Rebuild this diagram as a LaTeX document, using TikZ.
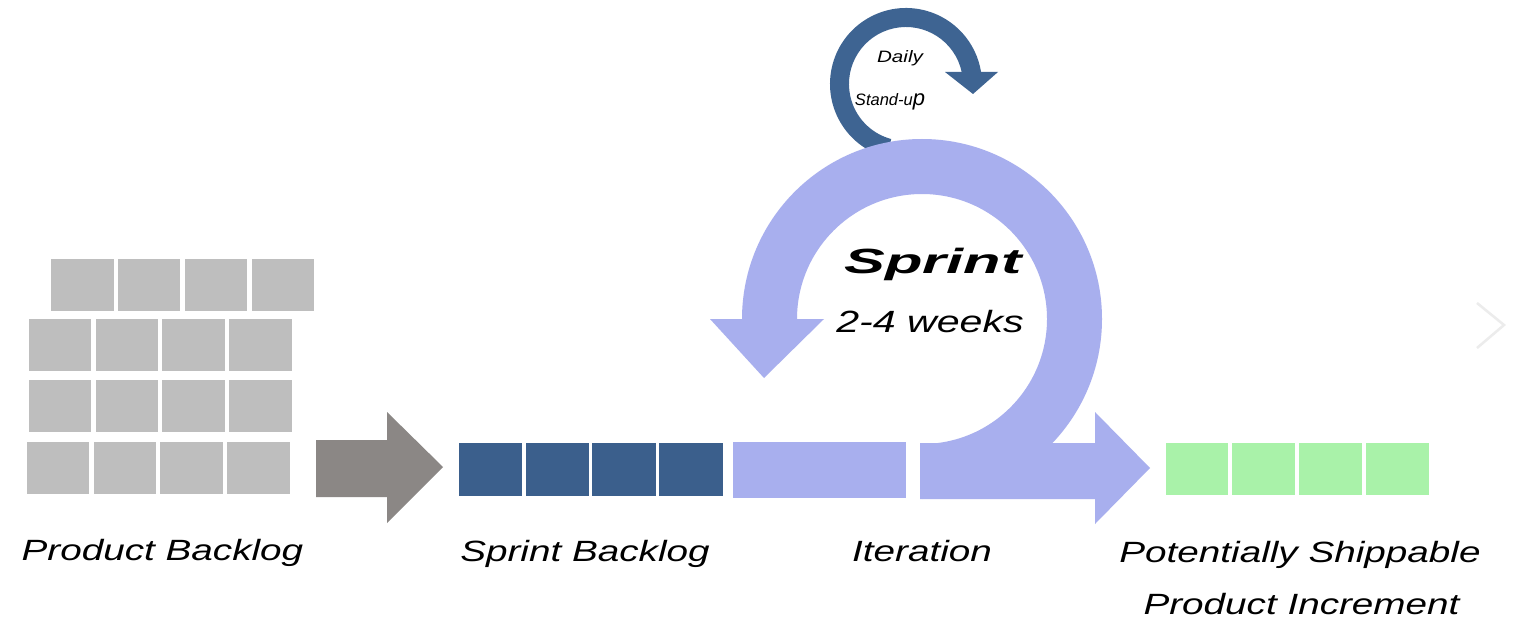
\documentclass[tikz,border=0pt]{standalone}
\usepackage{fontspec}
\setmainfont{Liberation Sans}
\usepackage{graphicx}
\definecolor{boxgray}{HTML}{BEBEBE}
\definecolor{arrowgray}{HTML}{8B8785}
\definecolor{darkblue}{HTML}{3B5F8C}
\definecolor{loopblue}{HTML}{3E6492}
\definecolor{periw}{HTML}{A8AFEE}
\definecolor{lgreen}{HTML}{A9F2A9}
\definecolor{chev}{HTML}{ECECEC}
\begin{document}
\begin{tikzpicture}[x=1pt,y=1pt,
  cell/.style={inner sep=0pt, outer sep=0pt, draw=none, minimum width=62.5pt, minimum height=52pt},
  gbox/.style={cell, fill=boxgray},
  dbox/.style={cell, fill=darkblue, minimum width=63.5pt, minimum height=53pt},
  kbox/.style={cell, fill=lgreen},
  lbl/.style={anchor=base, inner sep=0pt, font=\fontsize{29.3}{35}\selectfont\itshape},
  small/.style={anchor=base, inner sep=0pt, font=\fontsize{16.5}{20}\selectfont\itshape},
]
\useasboundingbox[fill=white] (0,0) rectangle (1515,-620);

% Product backlog
\foreach \x [count=\i] in {82.5,149,216,283} \node[gbox] (pa\i) at (\x,-285) {};
\foreach \x [count=\i] in {60,127,193.5,260.5} \node[gbox] (pb\i) at (\x,-345) {};
\foreach \x [count=\i] in {60,127,193.5,260.5} \node[gbox] (pc\i) at (\x,-406) {};
\foreach \x [count=\i] in {58,125,191.5,258.5} \node[gbox] (pd\i) at (\x,-468) {};

% gray arrow
\fill[arrowgray] (316,-440) -- (387,-440) -- (387,-412) -- (443,-467) -- (387,-523) -- (387,-497) -- (316,-497) -- cycle;

% Sprint backlog
\foreach \x [count=\i] in {490.5,557.5,624,691} \node[dbox] (sb\i) at (\x,-469.5) {};

% Iteration box
\node[cell, fill=periw, minimum width=173pt, minimum height=56pt] (it) at (819.5,-470) {};

% Daily stand-up loop
\fill[loopblue] (906,-84) ++(255:76) arc[start angle=255, end angle=9.09, radius=76]
  -- (998,-72) -- (973,-94) -- (945,-72) -- (961.7,-72)
  arc[start angle=12.15, end angle=255, radius=57] -- cycle;

% Sprint ring
\fill[periw] (922,-319) ++(-90:180) arc[start angle=-90, end angle=180, radius=180]
  -- (710,-319) -- (764,-378) -- (824,-319) -- (797,-319)
  arc[start angle=180, end angle=-90, radius=125] -- cycle;
\fill[periw] (920,-443) -- (1095,-443) -- (1095,-412) -- (1150,-468) -- (1095,-524) -- (1095,-499) -- (920,-499) -- cycle;

% Increment
\foreach \x [count=\i] in {1197,1263.5,1330.5,1397.5} \node[kbox] (pi\i) at (\x,-469) {};

% faint chevron
\draw[chev, line width=2.5pt] (1477,-303) -- (1504,-325) -- (1477,-348);

% labels
\node[lbl] (lpb) at (162.5,-560) {\scalebox{1.32}[1]{Product Backlog}};
\node[lbl] (lsb) at (585,-561) {\scalebox{1.32}[1]{Sprint Backlog}};
\node[lbl] (lit) at (922,-561) {\scalebox{1.32}[1]{Iteration}};
\node[lbl] (lps) at (1300,-562) {\scalebox{1.32}[1]{Potentially Shippable}};
\node[lbl] (lpi) at (1301.5,-614) {\scalebox{1.32}[1]{Product Increment}};
\node[anchor=base, inner sep=0pt, font=\fontsize{35}{40}\selectfont\bfseries\itshape] (lsp) at (933,-274) {\scalebox{1.75}[1]{Sprint}};
\node[anchor=base, inner sep=0pt, font=\fontsize{30.7}{36}\selectfont\itshape] (lwk) at (930,-332) {\scalebox{1.34}[1]{2-4 weeks}};
\node[small] (ldy) at (900,-63) {\scalebox{1.25}[1]{Daily}};
\node[small] (lsu) at (890,-106) {Stand-u{\fontsize{22}{22}\selectfont p}};
\end{tikzpicture}
\end{document}
